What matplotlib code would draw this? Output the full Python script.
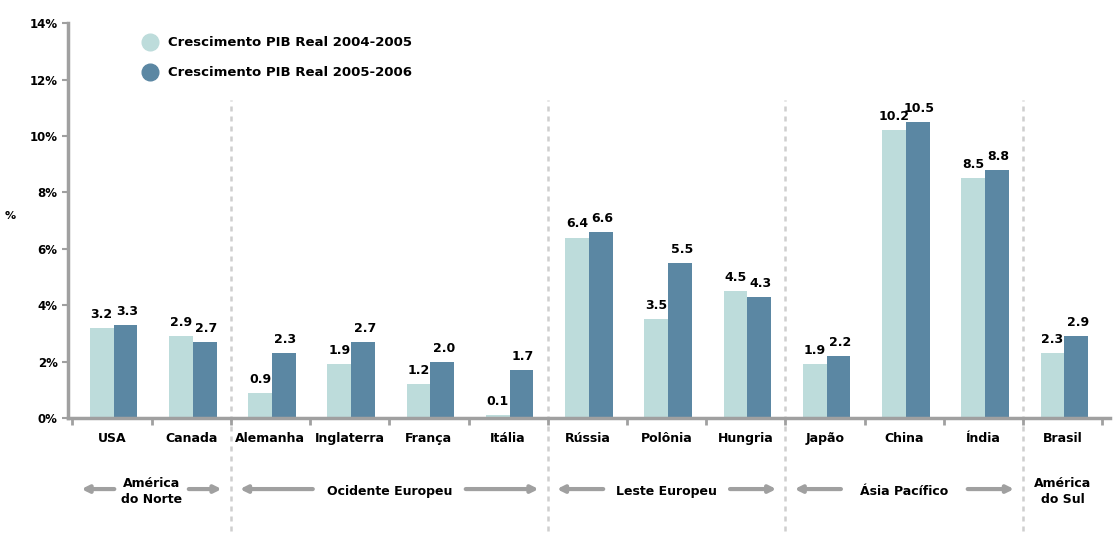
import matplotlib.pyplot as plt
import numpy as np
from matplotlib.lines import Line2D

countries = ['USA', 'Canada', 'Alemanha', 'Inglaterra', 'França', 'Itália',
             'Rússia', 'Polônia', 'Hungria', 'Japão', 'China', 'Índia', 'Brasil']
gdp_2004_2005 = [3.2, 2.9, 0.9, 1.9, 1.2, 0.1, 6.4, 3.5, 4.5, 1.9, 10.2, 8.5, 2.3]
gdp_2005_2006 = [3.3, 2.7, 2.3, 2.7, 2.0, 1.7, 6.6, 5.5, 4.3, 2.2, 10.5, 8.8, 2.9]
series_names = ['Crescimento PIB Real 2004-2005', 'Crescimento PIB Real 2005-2006']

# region name, first and last country index, draw arrows?
regions = [
    ('América\ndo Norte', 0, 1, True),
    ('Ocidente Europeu', 2, 5, True),
    ('Leste Europeu', 6, 8, True),
    ('Ásia Pacífico', 9, 11, True),
    ('América\ndo Sul', 12, 12, False),
]
separators = [1.5, 5.5, 8.5, 11.5]

light = '#bddcdb'
dark = '#5b87a3'
gray = '#a0a0a0'

fig = plt.figure(figsize=(11.14, 5.39), dpi=100)
ax = fig.add_axes([0.061, 0.2245, 0.935, 0.7325])

x = np.arange(len(countries))
w = 0.3
ax.bar(x - w / 2 + 0.02, gdp_2004_2005, w, color=light, label=series_names[0])
ax.bar(x + w / 2 + 0.02, gdp_2005_2006, w, color=dark, label=series_names[1])

for i in range(len(countries)):
    ax.text(x[i] - w / 2 + 0.02, gdp_2004_2005[i] + 0.25, '%.1f' % gdp_2004_2005[i],
            ha='center', va='bottom', fontsize=9, fontweight='bold')
    ax.text(x[i] + w / 2 + 0.04, gdp_2005_2006[i] + 0.25, '%.1f' % gdp_2005_2006[i],
            ha='center', va='bottom', fontsize=9, fontweight='bold')

ax.set_xlim(-0.555, 12.59)
ax.set_ylim(0, 14)
ax.set_yticks(range(0, 15, 2))
ax.set_yticklabels(['%d%%' % v for v in range(0, 15, 2)], fontsize=8.5, fontweight='bold')
ax.set_ylabel('%', fontsize=8, fontweight='bold', rotation=0, labelpad=14)

ax.set_xticks(x)
ax.set_xticklabels(countries, fontsize=9, fontweight='bold')
ax.tick_params(axis='x', which='major', length=0, pad=10)
ax.set_xticks(np.arange(-0.5, 13, 1), minor=True)
ax.tick_params(axis='x', which='minor', length=5, width=2, color=gray)
ax.tick_params(axis='y', length=4, width=1.5, color=gray)

for s in ['top', 'right']:
    ax.spines[s].set_visible(False)
ax.spines['left'].set_color(gray)
ax.spines['left'].set_linewidth(2.5)
ax.spines['bottom'].set_color(gray)
ax.spines['bottom'].set_linewidth(2.5)

for sx in separators:
    ax.axvline(sx, ymin=-0.285, ymax=0.805, clip_on=False, color='#cfcfcf',
               linestyle=(0, (2, 2)), linewidth=1.8, zorder=0)

tr = ax.get_xaxis_transform()
for name, a, b, arrows in regions:
    mid = (a + b) / 2
    ax.text(mid, -0.185, name, transform=tr, ha='center', va='center',
            fontsize=9, fontweight='bold', linespacing=1.3)
    if arrows:
        half = len(name.split('\n')[0]) * 0.055 + 0.05
        lo = a - 0.42
        hi = b + 0.42
        ax.annotate('', xy=(lo, -0.18), xytext=(mid - half, -0.18), xycoords=tr,
                    textcoords=tr, annotation_clip=False,
                    arrowprops=dict(arrowstyle='-|>', color=gray, lw=3, mutation_scale=10))
        ax.annotate('', xy=(hi, -0.18), xytext=(mid + half, -0.18), xycoords=tr,
                    textcoords=tr, annotation_clip=False,
                    arrowprops=dict(arrowstyle='-|>', color=gray, lw=3, mutation_scale=10))

handles = [Line2D([], [], marker='o', linestyle='', markersize=12, color=light),
           Line2D([], [], marker='o', linestyle='', markersize=12, color=dark)]
leg = fig.legend(handles, series_names, loc='upper left', bbox_to_anchor=(0.112, 0.955),
                 frameon=False, prop={'size': 9.5, 'weight': 'bold'},
                 handletextpad=0.4, labelspacing=1.3)

fig.savefig('out.png', dpi=100)
